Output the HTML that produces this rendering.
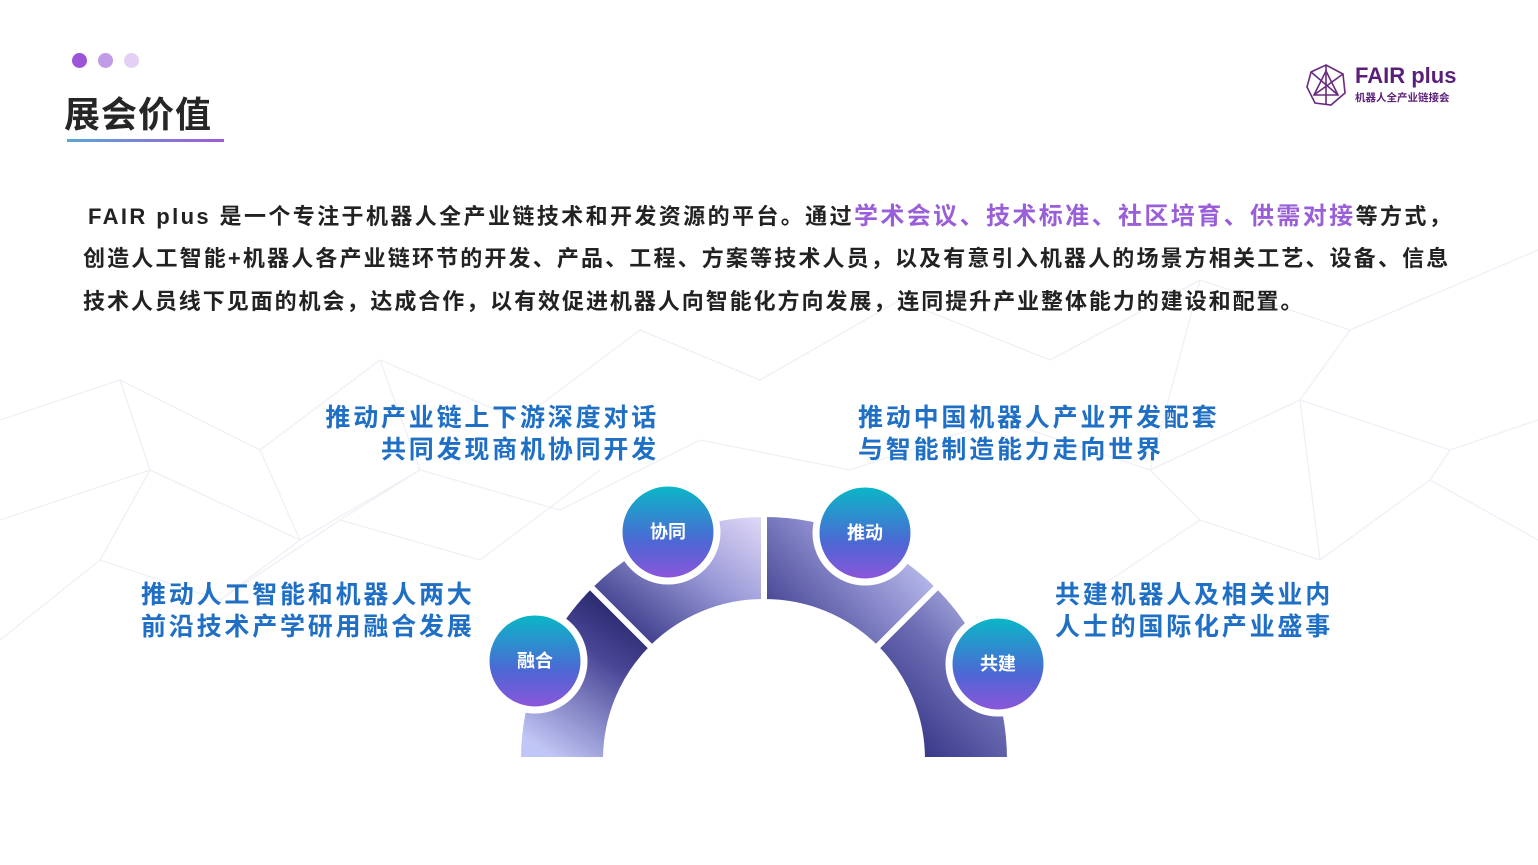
<!DOCTYPE html>
<html><head><meta charset="utf-8"><style>
body{margin:0;width:1538px;height:865px;overflow:hidden;background:#fff;position:relative;font-family:"Liberation Sans","Noto Sans CJK SC",sans-serif;}
.a{position:absolute;white-space:nowrap;}
.dot{position:absolute;width:15px;height:15px;border-radius:50%;top:53px;}
.body{font-size:22px;font-weight:bold;color:#222;letter-spacing:2.15px;}
.h{font-size:25px;font-weight:bold;color:#1f6fc5;letter-spacing:2.8px;line-height:32px;}
.hl{color:#9a5fd8;font-size:24px;}
</style></head><body>
<svg class="a" style="left:0;top:0" width="1538" height="865">
<g stroke="#edf0f6" stroke-width="1.3" fill="none">
<path d="M0 420 L120 380 L260 450 L380 360 L520 420 L640 330 L760 380 L900 300 L1050 360 L1200 280 L1350 330 L1538 250"/>
<path d="M0 520 L150 470 L300 540 L420 470 L560 510 L700 440 L850 470 L1000 420 L1150 470 L1300 400 L1450 450 L1538 420"/>
<path d="M0 640 L100 560 L220 600 L340 520 L480 560 L600 470"/>
<path d="M1080 600 L1200 520 L1320 560 L1430 480 L1538 540"/>
<path d="M120 380 L150 470 L100 560 M260 450 L300 540 L220 600 M380 360 L420 470 L340 520 M1200 280 L1150 470 L1200 520 M1350 330 L1300 400 L1320 560 M1450 450 L1430 480"/>
</g>
<defs>
<linearGradient id="g1" x1="0.8" y1="0" x2="0.3" y2="1"><stop offset="0" stop-color="#1c1e5e"/><stop offset="0.4" stop-color="#4a4696"/><stop offset="1" stop-color="#c0c6f5"/></linearGradient>
<linearGradient id="g2" x1="0" y1="1" x2="1" y2="0"><stop offset="0.1" stop-color="#2d2d7e"/><stop offset="0.6" stop-color="#9a9ad8"/><stop offset="1" stop-color="#e4dcf8"/></linearGradient>
<linearGradient id="g3" x1="0" y1="1" x2="1" y2="0.3"><stop offset="0" stop-color="#2f2e80"/><stop offset="0.6" stop-color="#8a8acc"/><stop offset="1" stop-color="#c4c9f2"/></linearGradient>
<linearGradient id="g4" x1="1" y1="0" x2="0.2" y2="1"><stop offset="0" stop-color="#c6cbf4"/><stop offset="0.5" stop-color="#6c6cb4"/><stop offset="1" stop-color="#2e2d80"/></linearGradient>
<linearGradient id="gc" x1="0" y1="0" x2="0" y2="1"><stop offset="0" stop-color="#06bcc6"/><stop offset="0.6" stop-color="#4d67d4"/><stop offset="1" stop-color="#9054da"/></linearGradient>
<linearGradient id="ul" x1="0" y1="0" x2="1" y2="0"><stop offset="0" stop-color="#5aa6d6"/><stop offset="1" stop-color="#a05ad8"/></linearGradient>
</defs>
<rect x="67" y="139" width="157" height="3" fill="url(#ul)"/>
<g stroke="#fff" stroke-width="6">
<path d="M518 760 A246 246 0 0 1 590 586 L652 648 A158 158 0 0 0 606 760 Z" fill="url(#g1)"/>
<path d="M590 586 A246 246 0 0 1 764 514 L764 602 A158 158 0 0 0 652 648 Z" fill="url(#g2)"/>
<path d="M764 514 A246 246 0 0 1 938 586 L876 648 A158 158 0 0 0 764 602 Z" fill="url(#g3)"/>
<path d="M938 586 A246 246 0 0 1 1010 760 L922 760 A158 158 0 0 0 876 648 Z" fill="url(#g4)"/>
</g>
<rect x="500" y="760" width="530" height="10" fill="#fff"/>
<g stroke="#fff" stroke-width="7" fill="url(#gc)">
<circle cx="668" cy="532" r="49"/><circle cx="865" cy="533" r="49"/>
<circle cx="535" cy="661" r="49"/><circle cx="998" cy="664" r="49"/>
</g>
<g fill="#fff" font-size="18" font-weight="bold" text-anchor="middle" font-family="Liberation Sans,Noto Sans CJK SC,sans-serif">
<text x="668" y="538">协同</text><text x="865" y="539">推动</text>
<text x="535" y="667">融合</text><text x="998" y="670">共建</text>
</g>
<g transform="translate(1307,65)" stroke="#6a2a7e" stroke-width="1.6" fill="none">
<polygon points="19,0 36,9 38,28 24,40 8,38 0,22 4,7"/>
<polygon points="19,6 31,30 7,30"/><path d="M19 0 L19 40 M4 7 L31 30 M36 9 L7 30"/>
</g>
</svg>
<div class="dot" style="left:72px;background:#9b55d8"></div>
<div class="dot" style="left:98px;background:#c09be6"></div>
<div class="dot" style="left:124px;background:#e3d0f4"></div>
<div class="a" style="left:64px;top:86px;font-size:36px;font-weight:bold;color:#262626;letter-spacing:1px">展会价值</div>
<div class="a" style="left:1355px;top:63px;font-size:22px;font-weight:bold;color:#5a1f78">FAIR plus</div>
<div class="a" style="left:1355px;top:90px;font-size:10.5px;font-weight:bold;color:#5a1f78">机器人全产业链接会</div>
<div class="a body" style="left:88px;top:196px;letter-spacing:2.4px">FAIR plus 是一个专注于机器人全产业链技术和开发资源的平台。通过<span class="hl">学术会议、技术标准、社区培育、供需对接</span>等方式，</div>
<div class="a body" style="left:83px;top:241px">创造人工智能+机器人各产业链环节的开发、产品、工程、方案等技术人员，以及有意引入机器人的场景方相关工艺、设备、信息</div>
<div class="a body" style="left:83px;top:284px;letter-spacing:1.95px">技术人员线下见面的机会，达成合作，以有效促进机器人向智能化方向发展，连同提升产业整体能力的建设和配置。</div>
<div class="a h" style="right:879px;top:402px;text-align:right">推动产业链上下游深度对话<br>共同发现商机协同开发</div>
<div class="a h" style="left:858px;top:402px">推动中国机器人产业开发配套<br>与智能制造能力走向世界</div>
<div class="a h" style="left:141px;top:579px">推动人工智能和机器人两大<br>前沿技术产学研用融合发展</div>
<div class="a h" style="left:1055px;top:579px">共建机器人及相关业内<br>人士的国际化产业盛事</div>
</body></html>
